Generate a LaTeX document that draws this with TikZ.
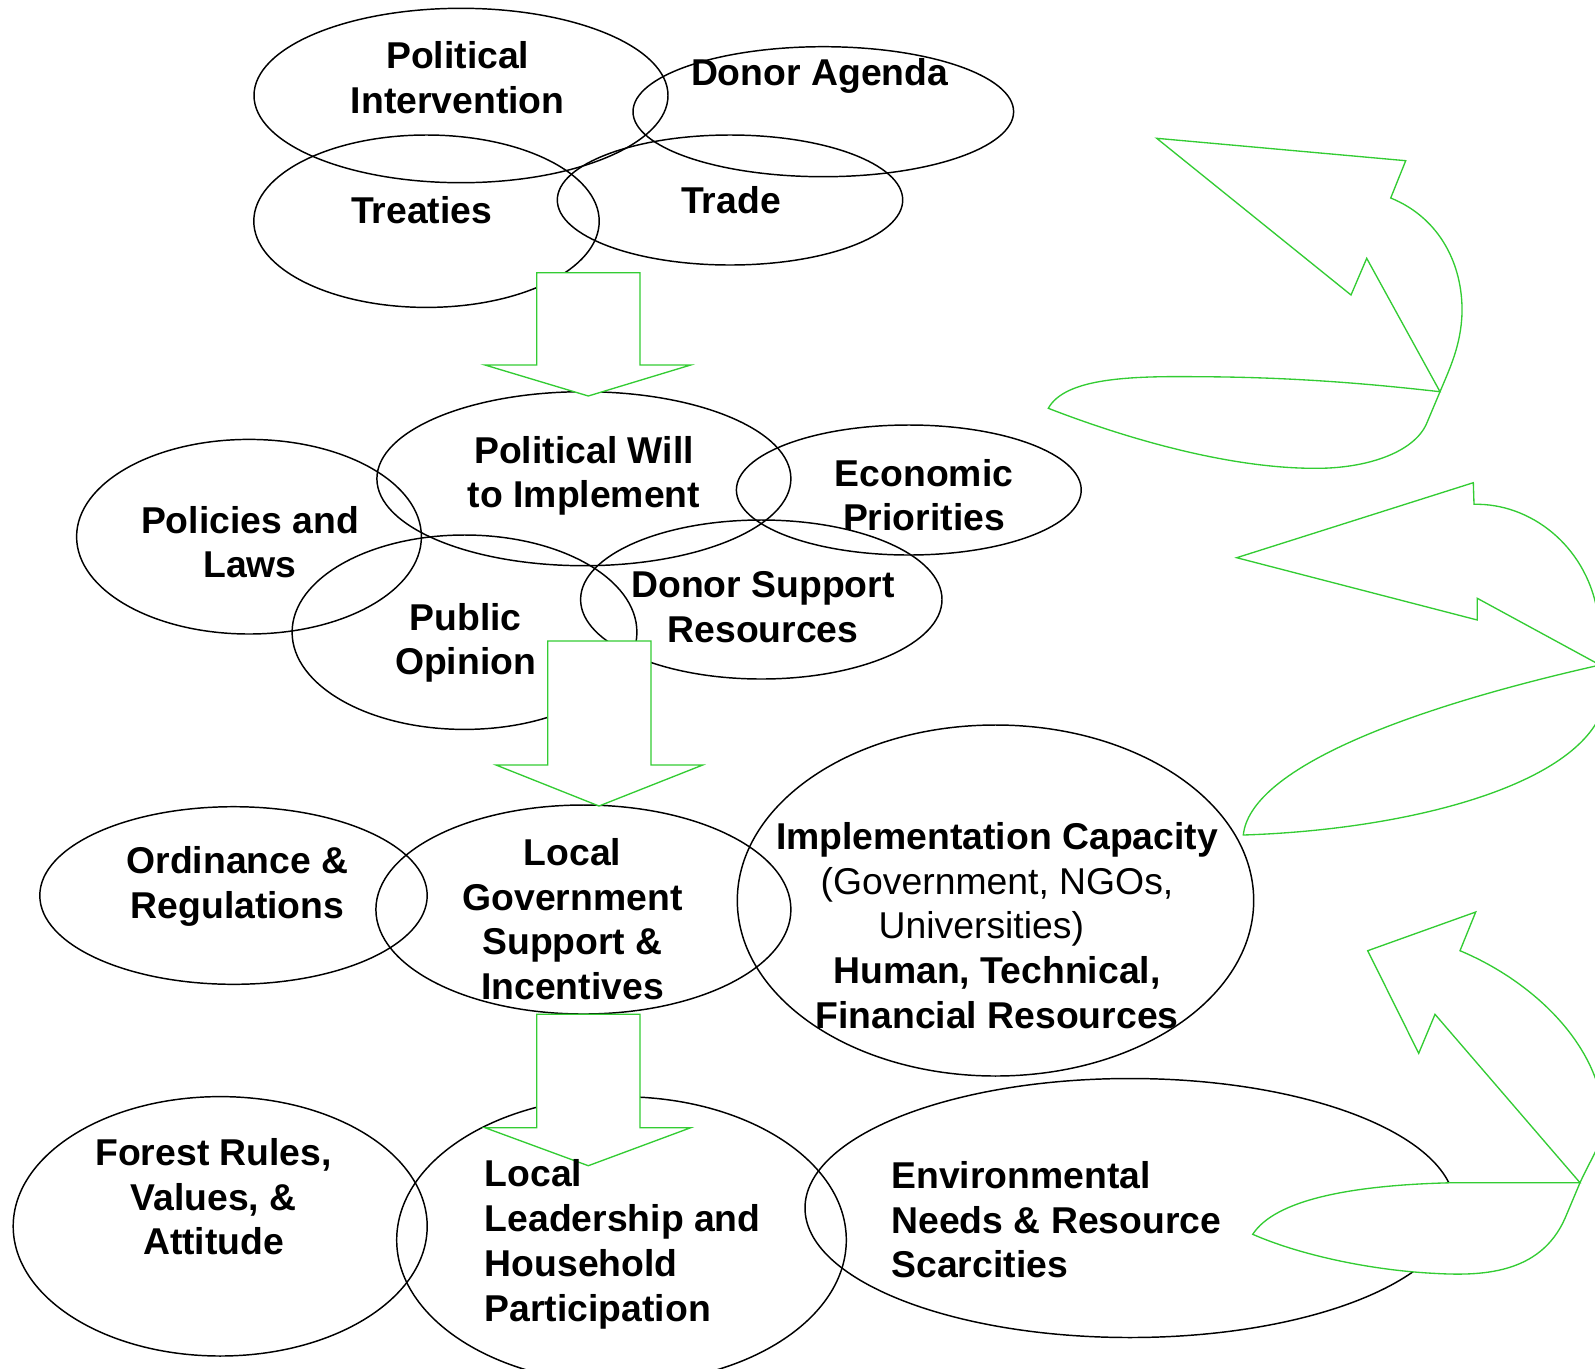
\documentclass[tikz,border=0pt]{standalone}
\usepackage{fontspec}
\setmainfont{Liberation Sans}
\usetikzlibrary{shapes.geometric}
\definecolor{arrowgreen}{RGB}{51,204,51}
\tikzset{every picture/.style={line width=0.75pt}}

\begin{document}
\begin{tikzpicture}[x=0.75pt,y=0.75pt,yscale=-1,xscale=1,
  bubble/.style 2 args={draw, ellipse, inner sep=0pt, line width=1.1pt, minimum width=#1*1.5pt, minimum height=#2*1.5pt},
  lbl/.style={inner sep=0pt, anchor=north, align=center, font=\fontsize{28}{33.7}\selectfont\bfseries},
  flow/.style={draw=arrowgreen, fill=white, line width=1pt, line join=miter}]
\useasboundingbox (0,0) rectangle (1595,1368);

%ellipses
\node[bubble={207}{87.2}] (polint) at (461,95.5) {};
\node[bubble={190.3}{65}] (donag) at (823.3,111.7) {};
\node[bubble={172.7}{86.2}] (treat) at (426.5,221.2) {};
\node[bubble={172.7}{65}] (trade) at (730,200) {};
\node[bubble={207}{87}] (polwill) at (583.9,478.7) {};
\node[bubble={172.4}{65}] (econ) at (908.8,490) {};
\node[bubble={172.4}{97.3}] (polic) at (249,536.7) {};
\node[bubble={172.4}{97.2}] (pubop) at (464.5,632.2) {};
\node[bubble={180.7}{79.5}] (donsup) at (761.3,599.5) {};
\node[bubble={193.7}{88.8}] (ordin) at (233.5,895.5) {};
\node[bubble={207.5}{104.5}] (locgov) at (583.4,909.5) {};
\node[bubble={258.2}{175.5}] (impcap) at (995.5,900.5) {};
\node[bubble={207}{129.7}] (forest) at (220.2,1226.3) {};
\node[bubble={224.8}{143.3}] (locled) at (621.5,1240) {};
\node[bubble={325}{129.5}] (envir) at (1130,1208) {};

%down arrows
\draw[flow] (536.7,272.7) -- (640,272.7) -- (640,365) -- (690.7,365) -- (588.3,396) -- (485,365) -- (536.7,365) -- cycle;
\draw[flow] (547.7,641) -- (651,641) -- (651,765) -- (702.7,765) -- (599,806) -- (496,765) -- (547.7,765) -- cycle;
\draw[flow] (536.7,1014.3) -- (640,1014.3) -- (640,1127.7) -- (690.7,1127.7) -- (588.3,1165.7) -- (485,1127.7) -- (536.7,1127.7) -- cycle;

%curved arrows
\draw[flow] (1390.7,198) .. controls (1440,218) and (1463,265) .. (1462,313) .. controls (1461,345) and (1450,368) .. (1440,391.7) -- (1426.7,423.3) .. controls (1414,453) and (1365,469) .. (1313.3,468.3) .. controls (1230,468) and (1130,440) .. (1048.3,408.3) .. controls (1065,378) and (1130,376) .. (1196.7,376.7) .. controls (1300,377) and (1380,385) .. (1440,391.7) -- (1366.7,258.3) -- (1351,295) -- (1156.7,138.3) -- (1405.7,160.7) -- cycle;
\draw[flow] (1474,504.3) .. controls (1530,503) and (1585,545) .. (1597,610) -- (1600,665) -- (1598,720) .. controls (1560,790) and (1400,830) .. (1243.3,835) .. controls (1250,770) and (1400,710) .. (1600,665) -- (1477.3,598.3) -- (1477.3,620) -- (1236.7,557.7) -- (1473.3,482.7) -- cycle;
\draw[flow] (1460,950.7) .. controls (1530,980) and (1595,1040) .. (1603,1110) .. controls (1606,1140) and (1595,1150) .. (1580,1182.7) -- (1565,1218.3) .. controls (1540,1275) and (1480,1276) .. (1433.3,1273.3) .. controls (1370,1270) and (1300,1255) .. (1252.7,1234.3) .. controls (1275,1200) and (1350,1185) .. (1453.3,1182.7) -- (1580,1182.7) -- (1435,1014.3) -- (1418.7,1053.3) -- (1367.7,950.7) -- (1475.7,912) -- cycle;

%labels
\node[lbl] (tpolint) at (457.7,41) {Political\\Intervention};
\node[lbl] (tdonag) at (819.6,58) {Donor Agenda};
\node[lbl] (ttreat) at (421.6,195.5) {Treaties};
\node[lbl] (ttrade) at (731,186) {Trade};
\node[lbl] (tpolwill) at (584,435.5) {Political Will\\to Implement};
\node[lbl] (tecon) at (924,458.5) {Economic\\Priorities};
\node[lbl] (tpolic) at (250,505.5) {Policies and\\Laws};
\node[lbl] (tpubop) at (465.5,602.5) {Public\\Opinion};
\node[lbl] (tdonsup) at (763,570.5) {Donor Support\\Resources};
\node[lbl] (tordin) at (237.5,845.5) {Ordinance \&\\Regulations};
\node[lbl] (tlocgov) at (572.5,837.5) {Local\\Government\\Support \&\\Incentives};
\node[lbl] (timpcap) at (997,821.5) {Implementation Capacity\\{\mdseries (Government, NGOs,}\\{\mdseries Universities)\hspace*{0.84em}\mbox{}}\\Human, Technical,\\Financial Resources};
\node[lbl] (tforest) at (213.6,1137.5) {Forest Rules,\\Values, \&\\Attitude};
\node[lbl, anchor=north west, align=left] (tlocled) at (484.2,1159) {Local\\Leadership and\\Household\\Participation};
\node[lbl, anchor=north west, align=left] (tenvir) at (891,1160.5) {Environmental\\Needs \& Resource\\Scarcities};
\end{tikzpicture}
\end{document}
